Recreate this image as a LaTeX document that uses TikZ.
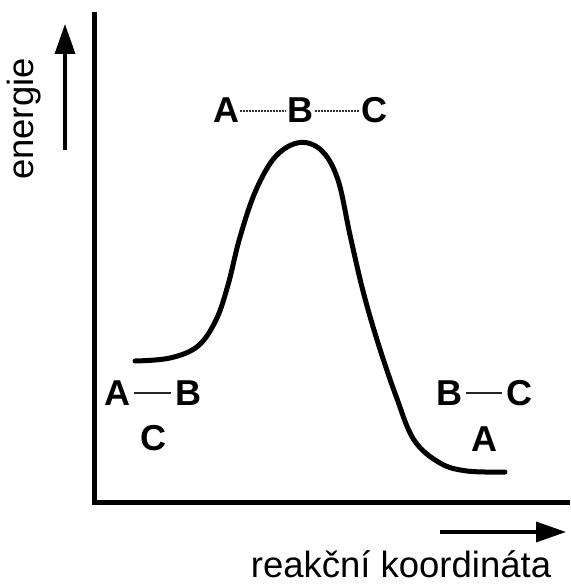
\documentclass[tikz,border=0pt]{standalone}
\usepackage{fontspec}
\setmainfont{Liberation Sans}
\usetikzlibrary{arrows.meta,calc}
\begin{document}
\begin{tikzpicture}[x=1pt,y=-1pt,
 lbl/.style={font=\fontsize{36}{36}\selectfont\bfseries, inner sep=0pt},
 axlabel/.style={font=\fontsize{36.5}{36.5}\selectfont, inner sep=0pt},
 axis/.style={line width=5pt, line join=miter},
 bond/.style={line width=1.5pt, black!85},
 partial/.style={line width=2pt, dash pattern=on 1.6pt off 1.4pt, black!80},
 bigarrow/.style={line width=3.5pt, -{Triangle[length=30pt,width=20pt]}},
 profile/.style={line width=5pt, line cap=round}
]
\useasboundingbox (0,0) rectangle (570,586);

% axes
\coordinate (top) at (94.5,12);
\coordinate (origin) at (94.5,502.5);
\coordinate (right) at (570,502.5);
\draw[axis] (top) -- (origin) -- (right);

% axis arrows
\coordinate (ya) at (65,150);
\coordinate (yb) at (65,24);
\draw[bigarrow] (ya) -- (yb);
\coordinate (xa) at (440,532);
\coordinate (xb) at (566,532);
\draw[bigarrow] (xa) -- (xb);

% axis labels
\node[axlabel, rotate=90, anchor=base] (ylabel) at (33,119) {energie};
\node[axlabel, anchor=base] (xlabel) at (401,577) {reakční koordináta};

% energy profile
\draw[profile] plot[smooth, tension=0.6] coordinates {
 (135,361) (170,358) (198,346) (216,320) (228,285) (240,237)
 (256,190) (276,156) (300,142.5) (322,151) (338,180) (350,235)
 (363,291) (378,343) (396,396) (414,440) (440,463) (467,471) (505,472)};

% reactants
\node[lbl] (rA) at (117,393) {A};
\node[lbl] (rB) at (188,393) {B};
\node[lbl] (rC) at (153,438) {C};
\draw[bond] ($(rA.east)+(4,0)$) -- ($(rB.west)+(-4,0)$);

% transition state
\node[lbl] (tA) at (226,110.5) {A};
\node[lbl] (tB) at (300,110.5) {B};
\node[lbl] (tC) at (374,110.5) {C};
\draw[partial] ($(tA.east)+(1,0)$) -- ($(tB.west)+(-1,0)$);
\draw[partial] ($(tB.east)+(2,0)$) -- ($(tC.west)+(-1,0)$);

% products
\node[lbl] (pB) at (449,393) {B};
\node[lbl] (pC) at (519,393) {C};
\node[lbl] (pA) at (484,439) {A};
\draw[bond] ($(pB.east)+(4,0)$) -- ($(pC.west)+(-4,0)$);
\end{tikzpicture}
\end{document}
